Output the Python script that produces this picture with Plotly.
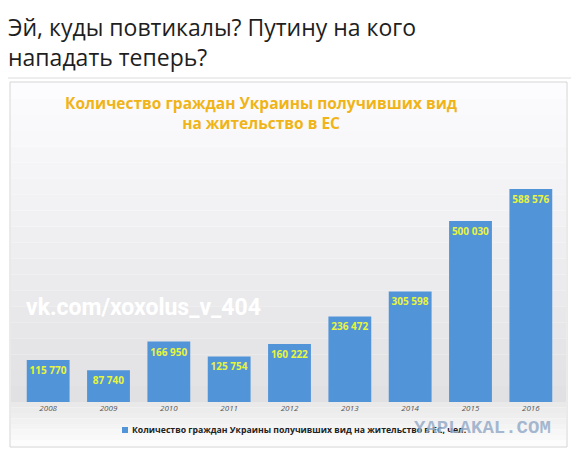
import plotly.graph_objects as go

years = ["2008", "2009", "2010", "2011", "2012", "2013", "2014", "2015", "2016"]
values = [115770, 87740, 166950, 125754, 160222, 236472, 305598, 500030, 588576]
series_name = "Количество граждан Украины получивших вид на жительство в ЕС, чел."
chart_title = "Количество граждан Украины получивших вид<br>на жительство в ЕС"
post_text = "Эй, куды повтикалы? Путину на кого<br>нападать теперь?"

OFF = 8  # page body margin
W, H = 579 - OFF, 458 - OFF
ML, MR, MT, MB = 10, 18, 112, 56
PW, PH = W - ML - MR, H - MT - MB


def px(x):
    return (x - OFF - ML) / PW


def py(y):
    return (H - MB - (y - OFF)) / PH


labels = [f"{v:,}".replace(",", " ") for v in values]
bar_color = "#5294d8"

fig = go.Figure()
fig.add_trace(go.Bar(
    x=years, y=values, name=series_name,
    text=labels, textposition="inside", insidetextanchor="end", textangle=0,
    textfont=dict(family="Open Sans", size=10, color="#e8f53c", weight="bold"),
    marker=dict(color=bar_color, line=dict(width=0)),
    width=0.71, constraintext="none", showlegend=False,
))

shapes = []
shapes.append(dict(type="line", xref="paper", yref="paper", x0=px(8), x1=px(571), y0=py(78), y1=py(78),
                   line=dict(color="#dcdcdc", width=1), layer="below"))
n = 20
top, bot = 83, 402
for i in range(n):
    y0 = top + (bot - top) * i / n
    y1 = top + (bot - top) * (i + 1) / n
    t = (i + 0.5) / n
    c = int(253 - 28 * t)
    shapes.append(dict(type="rect", xref="paper", yref="paper", x0=px(11), x1=px(566), y0=py(y0), y1=py(y1),
                       fillcolor=f"rgb({c},{c},{min(255, c + 2)})", line=dict(width=0), layer="below"))
m = 8
for i in range(m):
    y0 = 402 + (446 - 402) * i / m
    y1 = 402 + (446 - 402) * (i + 1) / m
    t = (i + 0.5) / m
    c = int(232 + 22 * t)
    shapes.append(dict(type="rect", xref="paper", yref="paper", x0=px(11), x1=px(566), y0=py(y0), y1=py(y1),
                       fillcolor=f"rgb({c},{c},{c})", line=dict(width=0), layer="below"))
shapes.append(dict(type="rect", xref="paper", yref="paper", x0=px(10), x1=px(567), y0=py(82), y1=py(447),
                   line=dict(color="#d4d4d4", width=1), fillcolor="rgba(0,0,0,0)", layer="below"))
# legend swatch
shapes.append(dict(type="rect", xref="paper", yref="paper", x0=px(122), x1=px(128), y0=py(427), y1=py(433),
                   fillcolor=bar_color, line=dict(width=0)))

annotations = [
    dict(text=post_text, xref="paper", yref="paper", x=px(6), y=py(8.5), xanchor="left", yanchor="top",
         align="left", showarrow=False, font=dict(family="Open Sans", size=23, color="#1e1e1e")),
    dict(text=chart_title, xref="paper", yref="paper", x=px(261), y=py(113), xanchor="center", yanchor="middle",
         align="center", showarrow=False,
         font=dict(family="Open Sans", size=15.5, color="#f0b416", weight="bold")),
    dict(text="vk.com/xoxolus_v_404", xref="paper", yref="paper", x=px(24), y=py(307), xanchor="left",
         yanchor="middle", showarrow=False,
         font=dict(family="Roboto", size=23, color="#ffffff", weight="bold")),
    dict(text=series_name, xref="paper", yref="paper", x=px(130), y=py(430), xanchor="left",
         yanchor="middle", showarrow=False,
         font=dict(family="Open Sans", size=8.7, color="#222222", weight="bold")),
    dict(text="YAPLAKAL.COM", xref="paper", yref="paper", x=px(553), y=py(428), xanchor="right",
         yanchor="middle", showarrow=False,
         font=dict(family="Liberation Mono", size=19, color="rgba(150,172,200,0.85)", weight="bold")),
]

fig.update_layout(
    width=W, height=H,
    margin=dict(l=ML, r=MR, t=MT, b=MB),
    paper_bgcolor="#ffffff", plot_bgcolor="rgba(0,0,0,0)",
    shapes=shapes, annotations=annotations,
    showlegend=False,
    xaxis=dict(showline=False, showgrid=False, zeroline=False, ticks="",
               tickfont=dict(family="Open Sans", size=8, color="#555555", style="italic")),
    yaxis=dict(visible=False, range=[0, 779200], showgrid=False, zeroline=False),
    bargap=0.29,
)

fig.write_html("out.html")
